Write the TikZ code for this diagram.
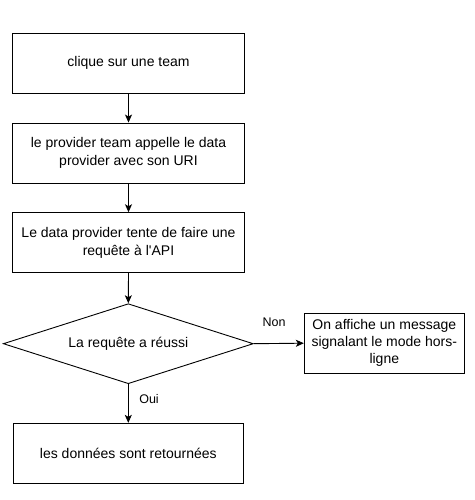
\documentclass[tikz,border=0pt]{standalone}
\usepackage{fontspec}
\setmainfont{Liberation Sans}
\usetikzlibrary{shapes.geometric,arrows.meta}
\begin{document}
\begin{tikzpicture}[x=1pt,y=-1pt,
  every node/.style={font=\fontsize{14}{18.5}\selectfont},
  procbox/.style={draw=black,line width=0.9pt,fill=white,minimum width=232pt,minimum height=60pt,align=center,inner sep=0pt},
  decision/.style={draw=black,line width=0.9pt,fill=white,diamond,aspect=3.125,minimum width=250pt,minimum height=80pt,inner sep=0pt},
  flow/.style={draw=black,line width=0.9pt,-{Stealth[length=8pt,width=7pt,inset=2pt]}},
  lbl/.style={font=\fontsize{12.5}{15}\selectfont}]
\fill[white] (0,0) rectangle (474,500);
\useasboundingbox (0,0) rectangle (474,500);
\node[procbox] (b1) at (128.5,63) {clique sur une team};
\node[procbox] (b2) at (128.5,153) {le provider team appelle le data\\provider avec son URI};
\node[procbox] (b3) at (128.5,242.7) {Le data provider tente de faire une\\requête à l\textquotesingle API};
\node[decision] (d) at (128.3,343.7) {La requête a réussi};
\node[procbox,minimum width=160pt,minimum height=60pt,font=\fontsize{14}{17}\selectfont] (r) at (384.3,343.2) {On affiche un message\\signalant le mode hors-\\ligne};
\node[procbox,minimum width=230pt] (b4) at (128.3,453.3) {les données sont retournées};
\draw[flow] (b1.south) -- (b2.north);
\draw[flow] (b2.south) -- (b3.north);
\draw[flow] (b3.south) -- (d.north);
\draw[flow] (d.east) -- (r.west);
\draw[flow] (d.south) -- (b4.north);
\node[lbl] (non) at (274,322) {Non};
\node[lbl] (oui) at (149,399.5) {Oui};
\end{tikzpicture}
\end{document}
